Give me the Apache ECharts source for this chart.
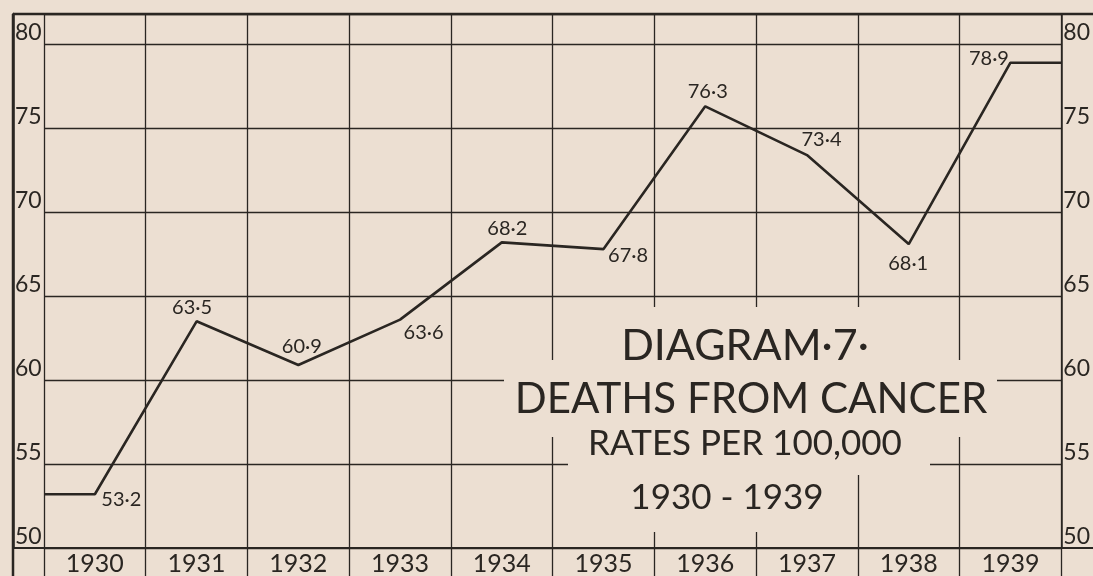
<!DOCTYPE html>
<html>
<head>
<meta charset="utf-8">
<script src="https://cdn.jsdelivr.net/npm/echarts@6/dist/echarts.min.js"></script>
<style>
html,body{margin:0;padding:0;background:#ecdfd2;}
#c{width:1093px;height:576px;}
</style>
</head>
<body>
<div id="c"></div>
<script>
// ---- data ----
const years = ['1930','1931','1932','1933','1934','1935','1936','1937','1938','1939'];
const rates = [53.2, 63.5, 60.9, 63.6, 68.2, 67.8, 76.3, 73.4, 68.1, 78.9];
const yTicks = [50, 55, 60, 65, 70, 75, 80];
const titleLines = ['DIAGRAM·7·', 'DEATHS FROM CANCER', 'RATES PER 100,000', '1930 - 1939'];

// ---- label placement (style, relative to each point) ----
const labelPlace = [
  {position:[7,-4],  align:'left',   verticalAlign:'top'},
  {position:[-4,-3], align:'center', verticalAlign:'bottom'},
  {position:[4,-8],  align:'center', verticalAlign:'bottom'},
  {position:[4,3],   align:'left',   verticalAlign:'top'},
  {position:[6,-3],  align:'center', verticalAlign:'bottom'},
  {position:[5,-3],  align:'left',   verticalAlign:'top'},
  {position:[3,-4],  align:'center', verticalAlign:'bottom'},
  {position:[15,-5], align:'center', verticalAlign:'bottom'},
  {position:[0,10],  align:'center', verticalAlign:'top'},
  {position:[-1,6],  align:'right',  verticalAlign:'bottom'}
];

const INK = '#2a2622';
const BG = '#ecdfd2';
const FONT = 'Lato';
const G = {left:44, right:28, top:14, bottom:28};
const W = 1093, H = 576;

const fmt = v => v.toFixed(1).replace('.', '·');

const lineData = [];
lineData.push({value:[-0.5, rates[0]], label:{show:false}});
rates.forEach((v,i) => {
  lineData.push({value:[i, v], label:Object.assign({show:true}, labelPlace[i])});
});
lineData.push({value:[years.length-0.5, rates[rates.length-1]], label:{show:false}});

const chart = echarts.init(document.getElementById('c'), null, {renderer:'canvas'});

const gridLine = {color:INK, width:1.3};
const axisLbl = {color:INK, fontFamily:FONT, fontSize:23};

const option = {
  backgroundColor: BG,
  animation:false,
  grid: {left:G.left, right:G.right, top:G.top, bottom:G.bottom, containLabel:false},
  xAxis: [
    {
      type:'category', data:years, position:'bottom', boundaryGap:true,
      axisLine:{show:true, onZero:false, lineStyle:{color:INK, width:2}},
      axisTick:{show:true, length:28, lineStyle:gridLine},
      axisLabel:{color:INK, fontFamily:FONT, fontSize:25, margin:3},
      splitLine:{show:true, lineStyle:gridLine}
    },
    {
      type:'value', position:'top', min:-0.5, max:years.length-0.5,
      axisLine:{show:false, onZero:false}, axisTick:{show:false}, axisLabel:{show:false}, splitLine:{show:false}
    }
  ],
  yAxis: [
    {
      type:'value', min:yTicks[0], max:81.8, interval:5, position:'left', offset:31,
      axisLine:{show:true, onZero:false, lineStyle:{color:INK, width:2.5}},
      axisTick:{show:false},
      axisLabel:Object.assign({inside:true, margin:2, verticalAlign:'bottom', align:'left', showMaxLabel:false,
        formatter: v => yTicks.indexOf(v) >= 0 ? String(v) : ''}, axisLbl),
      splitLine:{show:true, lineStyle:gridLine}
    },
    {
      type:'value', min:yTicks[0], max:81.8, interval:5, position:'right',
      axisLine:{show:true, onZero:false, lineStyle:{color:INK, width:1.5}},
      axisTick:{show:false},
      axisLabel:Object.assign({inside:false, margin:2, verticalAlign:'bottom', align:'left',
        formatter: v => yTicks.indexOf(v) >= 0 ? String(v) : ''}, axisLbl),
      splitLine:{show:false}
    }
  ],
  series: [{
    type:'line', xAxisIndex:1, yAxisIndex:0, data:lineData,
    symbol:'circle', symbolSize:1, showSymbol:true, z:5,
    itemStyle:{color:'rgba(0,0,0,0)'},
    lineStyle:{color:INK, width:2.6},
    label:{show:true, color:INK, fontFamily:FONT, fontSize:20,
      formatter: p => fmt(p.value[1])},
    labelLayout:{hideOverlap:false}
  }],
  graphic: [
    // frame
    {type:'line', z:3, shape:{x1:13, y1:14, x2:W, y2:14}, style:{stroke:INK, lineWidth:2.5}},
    {type:'line', z:3, shape:{x1:13, y1:14, x2:13, y2:H}, style:{stroke:INK, lineWidth:2.5}},
    {type:'line', z:3, shape:{x1:13, y1:H-G.bottom, x2:W, y2:H-G.bottom}, style:{stroke:INK, lineWidth:2}},
    // clear area behind title
    {type:'rect', z:1, shape:{x:600, y:307, width:310, height:53}, style:{fill:BG}},
    {type:'rect', z:1, shape:{x:504, y:360, width:493, height:77}, style:{fill:BG}},
    {type:'rect', z:1, shape:{x:568, y:437, width:362, height:38}, style:{fill:BG}},
    {type:'rect', z:1, shape:{x:600, y:475, width:210, height:57}, style:{fill:BG}},
    // title text
    {type:'text', z:4, x:745, y:346, style:{text:titleLines[0], fill:INK, font:'43px '+FONT, textAlign:'center', textVerticalAlign:'middle'}},
    {type:'text', z:4, x:751, y:399, style:{text:titleLines[1], fill:INK, font:'42px '+FONT, textAlign:'center', textVerticalAlign:'middle'}},
    {type:'text', z:4, x:745, y:444, style:{text:titleLines[2], fill:INK, font:'35px '+FONT, textAlign:'center', textVerticalAlign:'middle'}},
    {type:'text', z:4, x:727, y:498, style:{text:titleLines[3], fill:INK, font:'35px '+FONT, textAlign:'center', textVerticalAlign:'middle'}}
  ]
};
chart.setOption(option);
</script>
</body>
</html>
